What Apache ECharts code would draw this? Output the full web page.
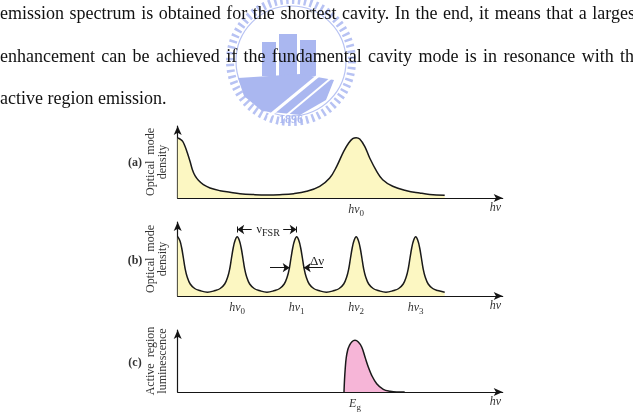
<!DOCTYPE html>
<html><head><meta charset="utf-8">
<script src="https://cdn.jsdelivr.net/npm/echarts@6/dist/echarts.min.js"></script>
<style>html,body{margin:0;padding:0;background:#fff}#c{width:633px;height:413px}</style>
</head><body><div id="c"></div>
<script>
// ---- Panel (a): optical mode density, long cavity ----
const aX = [0, 2.3, 5, 7.3, 9.7, 12.3, 14.7, 17.3, 20.7, 25.7, 32.3, 42.3, 52.3, 62.3, 76, 89, 102, 116, 129, 142, 152, 159, 166, 171, 175, 178.5, 182, 187, 192, 199, 205, 215, 229, 242, 252, 267];
const aY = [60, 59, 56.7, 51.7, 45, 36.7, 28.3, 22.3, 17.7, 13.3, 10, 7.3, 5.7, 4.3, 3.4, 3, 3.3, 4.3, 6.7, 11.7, 20, 31.7, 46.7, 55, 59.3, 60.3, 59, 51.7, 40, 26.7, 18.3, 11.7, 7.3, 5, 3.6, 2.8];
const aTickPos = [178.5];
const aTickLabels = ['hν0'];

// ---- Panel (b): optical mode density, short cavity ----
const bX = [0, 2.3, 4, 5.7, 7.3, 9.5, 12.5, 17, 22, 29.75,
  37.5, 42.5, 47, 50, 52.2, 53.8, 55.5, 57.2, 59.5, 61.8, 63.5, 65.2, 66.8, 69, 72, 76.5, 81.5, 89.25,
  97, 102, 106.5, 109.5, 111.7, 113.3, 115, 116.7, 119, 121.3, 123, 124.7, 126.3, 128.5, 131.5, 136, 141, 148.75,
  156.5, 161.5, 166, 169, 171.2, 172.8, 174.5, 176.2, 178.5, 180.8, 182.5, 184.2, 185.8, 188, 191, 195.5, 200.5, 208.25,
  216, 221, 225.5, 228.5, 230.7, 232.3, 234, 235.7, 238, 240.3, 242, 243.7, 245.3, 247.5, 250.5, 255, 260, 267];
const bY = [59.3, 55, 48, 38, 28, 19, 12, 7.5, 5.5, 3.8,
  5.5, 7.5, 12, 19, 28, 38, 48, 55, 59.3, 55, 48, 38, 28, 19, 12, 7.5, 5.5, 3.8,
  5.5, 7.5, 12, 19, 28, 38, 48, 55, 59.3, 55, 48, 38, 28, 19, 12, 7.5, 5.5, 3.8,
  5.5, 7.5, 12, 19, 28, 38, 48, 55, 59.3, 55, 48, 38, 28, 19, 12, 7.5, 5.5, 3.8,
  5.5, 7.5, 12, 19, 28, 38, 48, 55, 59.3, 55, 48, 38, 28, 19, 12, 7.5, 5.5, 3.8];
const bTickPos = [59.5, 119, 178.5, 238];
const bTickLabels = ['hν0', 'hν1', 'hν2', 'hν3'];

// ---- Panel (c): active region luminescence ----
const cX = [166.3, 166.8, 167.5, 168.5, 170, 171.5, 174, 177.3, 180.6, 184, 187.3, 190.6, 194, 199, 205.6, 212.3, 219, 227];
const cY = [0, 12, 23, 34, 42, 46, 50, 51.7, 50, 45, 35, 25, 16.7, 8.3, 2.7, 0.7, 0, 0];
const cTickPos = [177.3];
const cTickLabels = ['Eg'];

// ---- Texts ----
const paraLines = [
  'emission spectrum is obtained for the shortest cavity. In the end, it means that a largest',
  'enhancement can be achieved if the fundamental cavity mode is in resonance with the',
  'active region emission.'
];
const yNames = ['Optical  mode\ndensity', 'Optical  mode\ndensity', 'Active  region\nluminescence'];
const panelTags = ['(a)', '(b)', '(c)'];
const xName = 'hν';

const SERIF = '"Liberation Serif", "Times New Roman", serif';
const INK = '#151515';

function pairs(xs, ys) { return xs.map((x, i) => [x, ys[i]]); }

function xAxisFor(gi, pos, labels) {
  return {
    type: 'value', gridIndex: gi, min: 0, max: 325,
    axisLine: { show: true, symbol: ['none', 'arrow'], symbolSize: [6, 9], lineStyle: { color: INK, width: 1.2 } },
    splitLine: { show: false },
    axisTick: { show: true, inside: true, length: 3, customValues: pos, lineStyle: { color: INK, width: 1 } },
    axisLabel: {
      show: true, customValues: pos, margin: 3,
      formatter: function (v) {
        let i = 0, best = 1e9;
        pos.forEach((p, k) => { if (Math.abs(p - v) < best) { best = Math.abs(p - v); i = k; } });
        const s = labels[i];
        return '{m|' + s.slice(0, s.length - 1) + '}{s|' + s.slice(-1) + '}';
      },
      rich: {
        m: { fontFamily: SERIF, fontStyle: 'italic', fontSize: 12, color: '#333', lineHeight: 14, verticalAlign: 'middle' },
        s: { fontFamily: SERIF, fontSize: 9, color: '#333', lineHeight: 17, verticalAlign: 'bottom' }
      }
    },
    name: xName, nameLocation: 'end', nameGap: -13,
    nameTextStyle: { fontFamily: SERIF, fontStyle: 'italic', fontSize: 12, color: '#333', align: 'left', verticalAlign: 'top', padding: [4, 0, 0, 0] }
  };
}
function yAxisFor(gi, max, name) {
  return {
    type: 'value', gridIndex: gi, min: 0, max: max,
    axisLine: { show: true, symbol: ['none', 'arrow'], symbolSize: [6, 9], lineStyle: { color: INK, width: 1.2 } },
    axisTick: { show: false }, axisLabel: { show: false }, splitLine: { show: false },
    name: name, nameLocation: 'middle', nameRotate: 90, nameGap: 9,
    nameTextStyle: { fontFamily: SERIF, fontSize: 12, lineHeight: 12, color: '#333' }
  };
}
function curve(gi, data, fill) {
  return {
    type: 'line', xAxisIndex: gi, yAxisIndex: gi, data: data,
    smooth: 0.4, showSymbol: false, silent: true, animation: false,
    lineStyle: { color: '#1a1a1a', width: 1.5 },
    areaStyle: { color: fill, opacity: 1 }
  };
}

const chart = echarts.init(document.getElementById('c'), null, { renderer: 'canvas' });

// paragraph layout (justified like the scanned page)
const mctx = document.createElement('canvas').getContext('2d');
const FS = 18;
mctx.font = FS + 'px "Liberation Serif"';
const graphics = [];
const lineY = [14, 57, 99];
const lineW = [640, 642, 0];
paraLines.forEach((ln, li) => {
  const words = ln.split(' ');
  if (!lineW[li]) {
    graphics.push({ type: 'text', x: 0, y: lineY[li], z: 10, style: { text: ln, fontFamily: SERIF, fontSize: FS, fill: '#111', verticalAlign: 'middle' } });
    return;
  }
  const ws = words.map(w => mctx.measureText(w).width);
  const sum = ws.reduce((a, b) => a + b, 0);
  const gap = (lineW[li] - sum) / (words.length - 1);
  let x = 0;
  words.forEach((w, k) => {
    graphics.push({ type: 'text', x: x, y: lineY[li], z: 10, style: { text: w, fontFamily: SERIF, fontSize: FS, fill: '#111', verticalAlign: 'middle' } });
    x += ws[k] + gap;
  });
});

// watermark logo (faint, behind the text)
const LB = '#aab7f0', LB2 = '#b7c2f3';
graphics.push(
  { type: 'circle', z: 1, shape: { cx: 291, cy: 61, r: 61 }, style: { fill: 'none', stroke: LB2, lineWidth: 8, lineDash: [2.5, 3.5] } },
  { type: 'circle', z: 1, shape: { cx: 291, cy: 61, r: 55 }, style: { fill: 'none', stroke: LB2, lineWidth: 1.2 } },
  { type: 'rect', z: 1, shape: { x: 262, y: 42, width: 14, height: 34 }, style: { fill: LB } },
  { type: 'rect', z: 1, shape: { x: 279, y: 34, width: 18, height: 42 }, style: { fill: LB } },
  { type: 'rect', z: 1, shape: { x: 300, y: 40, width: 16, height: 36 }, style: { fill: LB } },
  { type: 'polygon', z: 1, shape: { points: [[238, 78], [300, 74], [334, 80], [326, 100], [300, 115], [262, 111], [244, 96]] }, style: { fill: LB } },
  { type: 'line', z: 2, shape: { x1: 268, y1: 117, x2: 336, y2: 61 }, style: { stroke: '#fff', lineWidth: 3 } },
  { type: 'line', z: 2, shape: { x1: 282, y1: 119, x2: 342, y2: 69 }, style: { stroke: '#fff', lineWidth: 2 } },
  { type: 'text', z: 2, x: 291, y: 120, style: { text: '1896', fontFamily: SERIF, fontWeight: 'bold', fontSize: 12, fill: LB, align: 'center', verticalAlign: 'middle' } }
);

// panel tags
const tagY = [163, 261, 363];
panelTags.forEach((t, i) => graphics.push({ type: 'text', x: 135, y: tagY[i], z: 10, style: { text: t, fontFamily: SERIF, fontWeight: 'bold', fontSize: 12, fill: '#333', align: 'center', verticalAlign: 'middle' } }));

const bSeries = curve(1, pairs(bX, bY), '#fcf7c2');
bSeries.markLine = {
  silent: true, animation: false, symbol: ['none', 'arrow'], symbolSize: 7,
  label: { show: false }, lineStyle: { color: INK, width: 1, type: 'solid' },
  data: [
    [{ coord: [74, 66.5] }, { coord: [59.5, 66.5] }],
    [{ coord: [105.5, 66.5] }, { coord: [119, 66.5] }],
    [{ coord: [59.5, 63.5], symbol: 'none' }, { coord: [59.5, 69.5], symbol: 'none' }],
    [{ coord: [119, 63.5], symbol: 'none' }, { coord: [119, 69.5], symbol: 'none' }],
    [{ coord: [92.3, 28.3] }, { coord: [112, 28.3] }],
    [{ coord: [145.3, 28.3] }, { coord: [126, 28.3] }]
  ]
};
bSeries.markPoint = {
  silent: true, animation: false, symbol: 'circle', symbolSize: 0,
  label: { show: true, position: [0, 0], align: 'center', verticalAlign: 'middle', color: '#222', fontFamily: SERIF, fontSize: 12 },
  data: [
    { coord: [90.5, 66.5], label: { formatter: '{n|ν}{s|FSR}', rich: { n: { fontFamily: SERIF, fontSize: 12, color: '#222', verticalAlign: 'middle', lineHeight: 14 }, s: { fontFamily: SERIF, fontSize: 10, color: '#222', verticalAlign: 'bottom', lineHeight: 17 } } } },
    { coord: [139.3, 34.5], label: { formatter: 'Δν', fontSize: 13 } }
  ]
};

chart.setOption({
  animation: false,
  backgroundColor: '#fff',
  grid: [
    { left: 177.7, top: 126, width: 325, height: 72 },
    { left: 177.7, top: 222, width: 325, height: 74 },
    { left: 177.7, top: 330, width: 325, height: 62 }
  ],
  xAxis: [xAxisFor(0, aTickPos, aTickLabels), xAxisFor(1, bTickPos, bTickLabels), xAxisFor(2, cTickPos, cTickLabels)],
  yAxis: [yAxisFor(0, 72, yNames[0]), yAxisFor(1, 74, yNames[1]), yAxisFor(2, 62, yNames[2])],
  series: [
    curve(0, pairs(aX, aY), '#fcf7c2'),
    bSeries,
    curve(2, pairs(cX, cY), '#f6b5d7')
  ],
  graphic: graphics
});
</script>
</body></html>
